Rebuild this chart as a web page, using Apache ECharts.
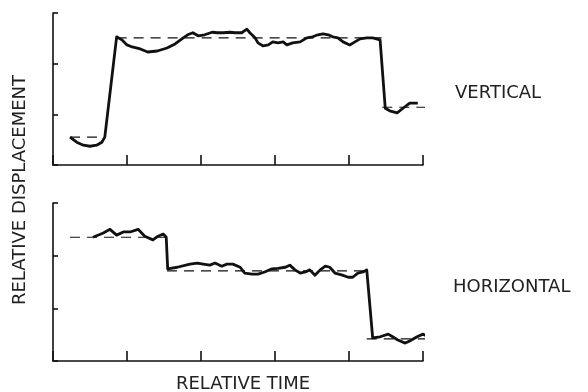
<!DOCTYPE html>
<html>
<head>
<meta charset="utf-8">
<script src="https://cdn.jsdelivr.net/npm/echarts@6/dist/echarts.min.js"></script>
<style>html,body{margin:0;padding:0;background:#fff;}#c{width:588px;height:392px;}</style>
</head>
<body>
<div id="c"></div>
<script>
// ---- data (relative time, relative displacement) ----
var vertTime = [0.23,0.32,0.41,0.50,0.59,0.66,0.70,0.86,0.93,1.00,1.07,1.18,1.28,1.41,1.54,1.65,1.76,1.82,1.89,1.96,2.05,2.15,2.22,2.30,2.39,2.46,2.55,2.62,2.66,2.73,2.77,2.84,2.91,2.97,3.04,3.11,3.16,3.24,3.34,3.43,3.51,3.58,3.65,3.72,3.78,3.85,3.92,4.01,4.08,4.15,4.24,4.32,4.42,4.49,4.55,4.65,4.73,4.82,4.89,4.93];
var vertDisp = [0.55,0.45,0.39,0.37,0.39,0.45,0.55,2.53,2.47,2.37,2.33,2.29,2.23,2.25,2.31,2.39,2.51,2.57,2.61,2.55,2.57,2.62,2.61,2.61,2.62,2.61,2.61,2.68,2.61,2.51,2.41,2.35,2.37,2.43,2.41,2.43,2.37,2.41,2.43,2.51,2.53,2.57,2.59,2.57,2.53,2.51,2.43,2.37,2.43,2.49,2.51,2.51,2.47,1.12,1.07,1.03,1.12,1.22,1.22,1.22];
var vertRefStart = [0.23,0.86,4.45];
var vertRefEnd   = [0.70,4.45,5.03];
var vertRefLevel = [0.55,2.51,1.14];

var horzTime = [0.54,0.68,0.77,0.86,0.95,1.04,1.15,1.24,1.35,1.42,1.49,1.53,1.55,1.68,1.85,1.95,2.03,2.12,2.19,2.28,2.35,2.43,2.53,2.59,2.69,2.77,2.86,2.96,3.04,3.14,3.20,3.27,3.34,3.41,3.47,3.54,3.61,3.68,3.74,3.81,3.91,3.99,4.05,4.12,4.19,4.24,4.32,4.42,4.53,4.59,4.66,4.76,4.82,4.92,5.00,5.07,5.14];
var horzDisp = [2.35,2.43,2.50,2.39,2.45,2.45,2.50,2.37,2.30,2.37,2.41,2.35,1.75,1.78,1.84,1.86,1.84,1.82,1.86,1.80,1.84,1.84,1.78,1.67,1.65,1.65,1.69,1.75,1.76,1.78,1.82,1.73,1.67,1.69,1.73,1.63,1.73,1.80,1.78,1.67,1.63,1.59,1.59,1.67,1.69,1.73,0.44,0.46,0.51,0.46,0.40,0.34,0.38,0.46,0.51,0.46,0.44];
var horzRefStart = [0.23,1.54,4.24];
var horzRefEnd   = [1.54,4.24,5.14];
var horzRefLevel = [2.35,1.71,0.42];

var xTicks = [0,1,2,3,4,5];
var yTicks = [0,1,2,3];
var panelNames = ['VERTICAL','HORIZONTAL'];
var xTitle = 'RELATIVE TIME';
var yTitle = 'RELATIVE DISPLACEMENT';

// ---- build ----
function pairs(xs, ys){ return xs.map(function(x,i){ return [x, ys[i]]; }); }
function refData(s, e, l){
  var d = [];
  for (var i=0;i<s.length;i++){ d.push([s[i], l[i]]); d.push([e[i], l[i]]); if (i<s.length-1) d.push([ (e[i]+s[i+1])/2, '-' ]); }
  return d;
}
var font = 'DejaVu Sans';
var ink = '#111';
function xAx(gi){
  return { type:'value', gridIndex:gi, min:xTicks[0], max:xTicks[xTicks.length-1], interval:1,
    axisLine:{show:true, onZero:false, lineStyle:{color:ink, width:1.6}},
    axisTick:{show:true, inside:true, length:10, lineStyle:{color:ink, width:1.6}},
    axisLabel:{show:false}, splitLine:{show:false} };
}
function yAx(gi){
  return { type:'value', gridIndex:gi, min:yTicks[0], max:yTicks[yTicks.length-1], interval:1,
    axisLine:{show:true, lineStyle:{color:ink, width:1.6}},
    axisTick:{show:true, inside:true, length:5, lineStyle:{color:ink, width:1.6}},
    axisLabel:{show:false}, splitLine:{show:false} };
}
function solid(gi, d){
  return { type:'line', xAxisIndex:gi, yAxisIndex:gi, data:d, symbol:'none', clip:false,
    lineStyle:{color:ink, width:2.8, join:'round'}, animation:false, z:3 };
}
function dashed(gi, d){
  return { type:'line', xAxisIndex:gi, yAxisIndex:gi, data:d, symbol:'none', clip:false, connectNulls:false,
    lineStyle:{color:ink, width:1.2, type:[10,7]}, animation:false, z:2 };
}
var chart = echarts.init(document.getElementById('c'), null, {renderer:'canvas'});
chart.setOption({
  backgroundColor:'#fff',
  animation:false,
  grid:[
    {left:53, top:13, width:370, height:152},
    {left:53, top:203, width:370, height:158}
  ],
  xAxis:[xAx(0), xAx(1)],
  yAxis:[yAx(0), yAx(1)],
  series:[
    dashed(0, refData(vertRefStart, vertRefEnd, vertRefLevel)),
    solid(0, pairs(vertTime, vertDisp)),
    dashed(1, refData(horzRefStart, horzRefEnd, horzRefLevel)),
    solid(1, pairs(horzTime, horzDisp))
  ],
  graphic:[
    {type:'text', left:455, top:84, style:{text:panelNames[0], font:'18px "'+font+'"', fill:'#222'}},
    {type:'text', left:453, top:278, style:{text:panelNames[1], font:'18px "'+font+'"', fill:'#222'}},
    {type:'text', x:243, y:384, style:{text:xTitle, font:'18px "'+font+'"', fill:'#222', align:'center', verticalAlign:'middle'}},
    {type:'text', x:20, y:190, rotation:Math.PI/2, style:{text:yTitle, font:'18px "'+font+'"', fill:'#222', align:'center', verticalAlign:'middle'}}
  ]
});
</script>
</body>
</html>
